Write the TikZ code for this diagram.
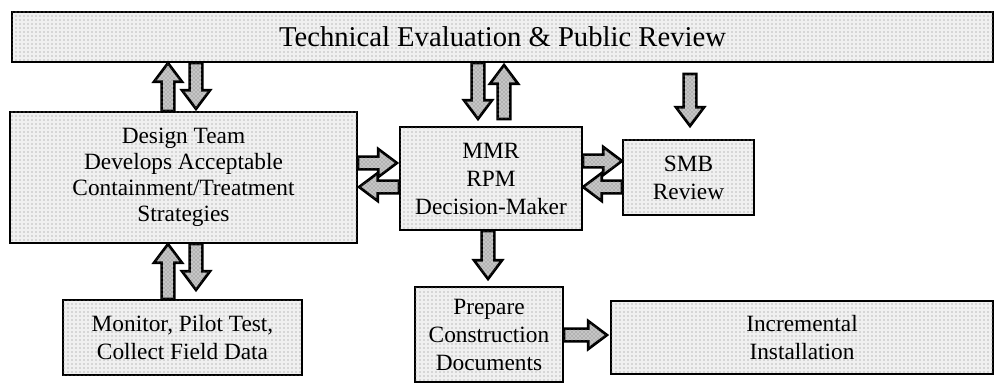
\documentclass[tikz,border=0pt]{standalone}
\usepackage{fontspec}
\setmainfont{Liberation Serif}
\usetikzlibrary{calc}
\usetikzlibrary{patterns}

\newcommand{\shaftw}{4.8}
\newcommand{\headw}{10.5}
\newcommand{\headl}{14}

\tikzset{
  box/.style={draw, line width=1.6pt, fill=gray!12,
    postaction={pattern=dots, pattern color=black!50},
    inner sep=0pt, align=center, font=\fontsize{17.5}{21}\selectfont},
  fatarrow/.style={draw, line width=2pt, fill=gray!45, line join=miter,
    postaction={pattern=crosshatch dots, pattern color=black!55},
    to path={let \p1=(\tikztostart), \p2=(\tikztotarget),
      \n1={veclen(\x2-\x1,\y2-\y1)}, \n2={(\x2-\x1)/\n1}, \n3={(\y2-\y1)/\n1} in
      ({\x1-\shaftw*(\n3)},{\y1+\shaftw*(\n2)})
      -- ({\x2-\headl*(\n2)-\shaftw*(\n3)},{\y2-\headl*(\n3)+\shaftw*(\n2)})
      -- ({\x2-\headl*(\n2)-\headw*(\n3)},{\y2-\headl*(\n3)+\headw*(\n2)})
      -- (\p2)
      -- ({\x2-\headl*(\n2)+\headw*(\n3)},{\y2-\headl*(\n3)-\headw*(\n2)})
      -- ({\x2-\headl*(\n2)+\shaftw*(\n3)},{\y2-\headl*(\n3)-\shaftw*(\n2)})
      -- ({\x1+\shaftw*(\n3)},{\y1-\shaftw*(\n2)}) -- cycle}}
}

\begin{document}
\begin{tikzpicture}[x=0.75pt, y=-0.75pt]
            \useasboundingbox (0,0) rectangle (994,384);

            \node[box, minimum width=735.75pt, minimum height=37.5pt, font=\fontsize{21.5}{24}\selectfont] (eval_rev) at (502.5,37) {Technical Evaluation \& Public Review};
            \node[box, minimum width=260.25pt, minimum height=98.25pt, font=\fontsize{17.5}{19.5}\selectfont] (design_team) at (183.5,177.5) {Design Team\\Develops Acceptable\\Containment/Treatment\\Strategies};
            \node[box, minimum width=136.5pt, minimum height=77.25pt] (mmr_rpm) at (491,178.5) {MMR\\RPM\\Decision-Maker};
            \node[box, minimum width=98.25pt, minimum height=56.25pt] (smb_rev) at (688.5,177.5) {SMB\\Review};
            \node[box, minimum width=179.25pt, minimum height=56.25pt] (monitor) at (182.5,337.5) {Monitor, Pilot Test,\\Collect Field Data};
            \node[box, minimum width=111pt, minimum height=71.25pt] (prep_docs) at (489,334.5) {Prepare\\Construction\\Documents};
            \node[box, minimum width=286.5pt, minimum height=54.75pt] (incr_inst) at (802,337.5) {Incremental\\Installation};

            % up and down to the review bar
            \draw[fatarrow] (design_team.north -| 168,0) to (eval_rev.south -| 168,0);
            \draw[fatarrow] (eval_rev.south -| 196,0) to ($(design_team.north -| 196,0)+(0,-2)$);
            \draw[fatarrow] (eval_rev.south -| 478,0) to ($(mmr_rpm.north -| 478,0)+(0,-7)$);
            \draw[fatarrow] ($(mmr_rpm.north -| 504,0)+(0,-7)$) to ($(eval_rev.south -| 504,0)+(0,2)$);
            \draw[fatarrow] ($(eval_rev.south -| 690,0)+(0,11)$) to ($(smb_rev.north -| 690,0)+(0,-13)$);

            % side by side
            \draw[fatarrow] (design_team.east |- 0,163) to ($(mmr_rpm.west |- 0,163)+(-2,0)$);
            \draw[fatarrow] (mmr_rpm.west |- 0,187) to ($(design_team.east |- 0,187)+(1,0)$);
            \draw[fatarrow] (mmr_rpm.east |- 0,161) to (smb_rev.west |- 0,161);
            \draw[fatarrow] (smb_rev.west |- 0,187) to (mmr_rpm.east |- 0,187);

            % lower row
            \draw[fatarrow] (monitor.north -| 168,0) to (design_team.south -| 168,0);
            \draw[fatarrow] (design_team.south -| 196,0) to ($(monitor.north -| 196,0)+(0,-9)$);
            \draw[fatarrow] (mmr_rpm.south -| 488,0) to ($(prep_docs.north -| 488,0)+(0,-7)$);
            \draw[fatarrow] (prep_docs.east |- 0,335) to ($(incr_inst.west |- 0,335)+(-3,0)$);
        \end{tikzpicture}
\end{document}
